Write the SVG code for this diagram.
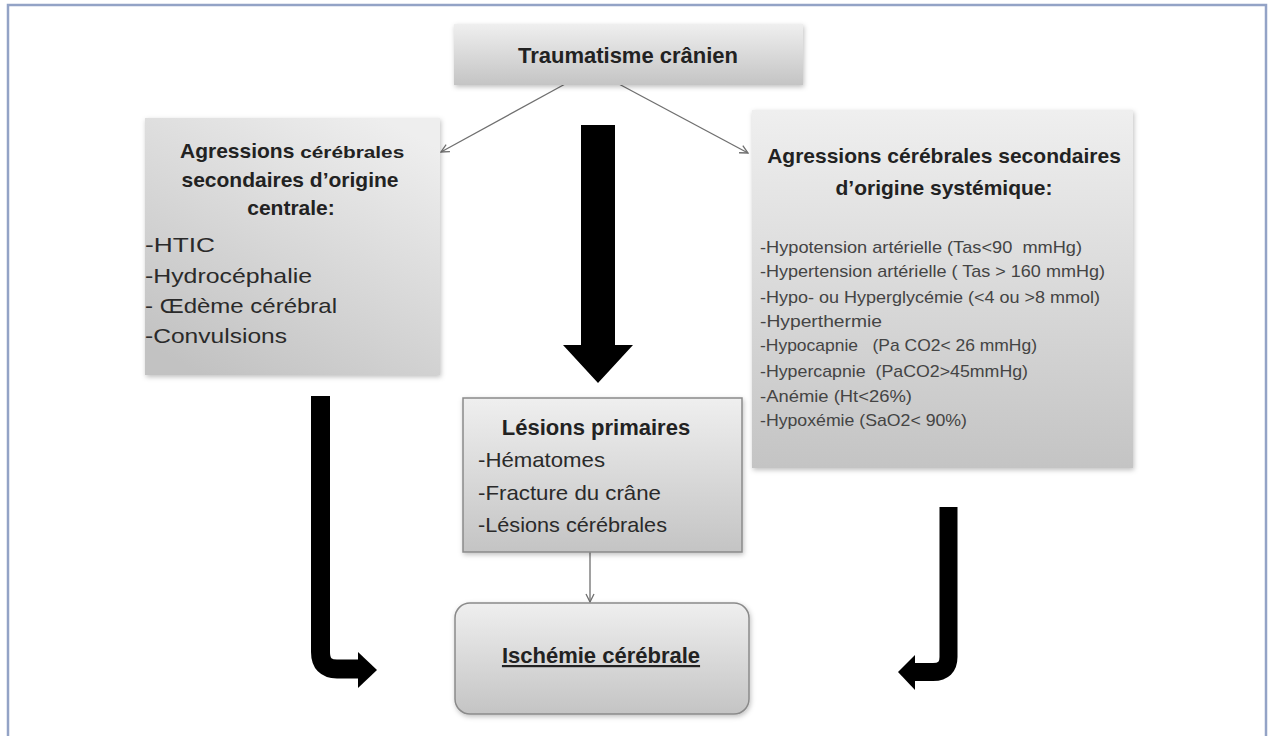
<svg xmlns="http://www.w3.org/2000/svg" width="1270" height="736" viewBox="0 0 1270 736">
<style>
  text { font-family: "Liberation Sans", Arial, sans-serif; fill: #222; }
  .b { font-weight: bold; }
  .t { text-anchor: middle; font-weight: bold; }
  .li { font-size: 21px; fill: #2a2a2a; }
  .rl { font-size: 17px; fill: #444; white-space: pre; }
  .thin { stroke: #6f6f6f; stroke-width: 1.3; fill: none; }
  .box { stroke: none; }
</style>
<defs>
  <linearGradient id="g" x1="0" y1="0" x2="0" y2="1">
    <stop offset="0" stop-color="#efefef"/>
    <stop offset="1" stop-color="#c4c4c4"/>
  </linearGradient>
  <linearGradient id="g2" x1="0.8" y1="0" x2="0.2" y2="1">
    <stop offset="0" stop-color="#eeeeee"/>
    <stop offset="1" stop-color="#c2c2c2"/>
  </linearGradient>
  <filter id="sh" x="-10%" y="-10%" width="120%" height="120%">
    <feDropShadow dx="1" dy="2" stdDeviation="2.5" flood-color="#000" flood-opacity="0.25"/>
  </filter>
  <marker id="ah" markerWidth="10" markerHeight="10" refX="9" refY="5" orient="auto" markerUnits="userSpaceOnUse">
    <path d="M1,1 L9,5 L1,9" fill="none" stroke="#6f6f6f" stroke-width="1.3"/>
  </marker>
</defs>
<rect x="0" y="0" width="1270" height="736" fill="#ffffff"/>
<rect x="8" y="5" width="1258" height="760" fill="none" stroke="#93a3c6" stroke-width="2.5"/>

<g id="connectors">
  <line class="thin" x1="567" y1="83" x2="441" y2="152" marker-end="url(#ah)"/>
  <line class="thin" x1="617" y1="83" x2="748" y2="153" marker-end="url(#ah)"/>
  <line class="thin" x1="590" y1="552" x2="590" y2="602" marker-end="url(#ah)"/>
  <path d="M581,125 H615 V345 H633 L598,383 L563,345 H581 Z" fill="#000"/>
  <path d="M320.5,396 V652 Q320.5,669 337,669 H360" fill="none" stroke="#000" stroke-width="19"/>
  <path d="M358,652 L377,670 L358,688 Z" fill="#000"/>
  <path d="M948.5,507 V657 Q948.5,672 933,672 H913" fill="none" stroke="#000" stroke-width="18"/>
  <path d="M915,655 L898,672 L915,690 Z" fill="#000"/>
</g>

<g id="trauma">
  <rect class="box" x="454" y="24" width="349" height="61" fill="url(#g)" filter="url(#sh)"/>
  <text class="t" x="628" y="63" font-size="22">Traumatisme crânien</text>
</g>

<g id="centrale">
  <rect class="box" x="145" y="118" width="295" height="257" fill="url(#g2)" filter="url(#sh)"/>
  <text x="180" y="158" class="b" font-size="21">Agressions <tspan font-size="17" textLength="104" lengthAdjust="spacingAndGlyphs">cérébrales</tspan></text>
  <text class="t" x="290" y="187" font-size="21">secondaires d’origine</text>
  <text class="t" x="291" y="215" font-size="21">centrale:</text>
  <text class="li" x="145" y="252" textLength="70" lengthAdjust="spacingAndGlyphs">-HTIC</text>
  <text class="li" x="145" y="283" textLength="167" lengthAdjust="spacingAndGlyphs">-Hydrocéphalie</text>
  <text class="li" x="145" y="313" textLength="192" lengthAdjust="spacingAndGlyphs">- Œdème cérébral</text>
  <text class="li" x="145" y="343" textLength="142" lengthAdjust="spacingAndGlyphs">-Convulsions</text>
</g>

<g id="systemique">
  <rect class="box" x="752" y="110" width="381" height="358" fill="url(#g)" filter="url(#sh)"/>
  <text class="t" x="944" y="163" font-size="21">Agressions cérébrales secondaires</text>
  <text class="t" x="944" y="195" font-size="21">d’origine systémique:</text>
  <text class="rl" x="760" y="253" textLength="322" lengthAdjust="spacingAndGlyphs" xml:space="preserve">-Hypotension artérielle (Tas&lt;90  mmHg)</text>
  <text class="rl" x="760" y="277" textLength="345" lengthAdjust="spacingAndGlyphs">-Hypertension artérielle ( Tas &gt; 160 mmHg)</text>
  <text class="rl" x="760" y="303" textLength="340" lengthAdjust="spacingAndGlyphs">-Hypo- ou Hyperglycémie (&lt;4 ou &gt;8 mmol)</text>
  <text class="rl" x="760" y="327" textLength="122" lengthAdjust="spacingAndGlyphs">-Hyperthermie</text>
  <text class="rl" x="760" y="351" textLength="277" lengthAdjust="spacingAndGlyphs" xml:space="preserve">-Hypocapnie   (Pa CO2&lt; 26 mmHg)</text>
  <text class="rl" x="760" y="377" textLength="268" lengthAdjust="spacingAndGlyphs" xml:space="preserve">-Hypercapnie  (PaCO2&gt;45mmHg)</text>
  <text class="rl" x="760" y="402" textLength="152" lengthAdjust="spacingAndGlyphs">-Anémie (Ht&lt;26%)</text>
  <text class="rl" x="760" y="426" textLength="207" lengthAdjust="spacingAndGlyphs">-Hypoxémie (SaO2&lt; 90%)</text>
</g>

<g id="primaires">
  <rect x="463" y="398" width="279" height="154" fill="url(#g)" stroke="#8a8a8a" stroke-width="1.5" filter="url(#sh)"/>
  <text class="t" x="596" y="435" font-size="22">Lésions primaires</text>
  <text class="li" x="478" y="467" font-size="20" textLength="127" lengthAdjust="spacingAndGlyphs">-Hématomes</text>
  <text class="li" x="478" y="500" font-size="20" textLength="183" lengthAdjust="spacingAndGlyphs">-Fracture du crâne</text>
  <text class="li" x="478" y="532" font-size="20" textLength="189" lengthAdjust="spacingAndGlyphs">-Lésions cérébrales</text>
</g>

<g id="ischemie">
  <rect x="455" y="603" width="294" height="111" rx="15" ry="15" fill="url(#g)" stroke="#8a8a8a" stroke-width="1.5" filter="url(#sh)"/>
  <text class="t" x="601" y="663" font-size="22" text-decoration="underline">Ischémie cérébrale</text>
</g>
</svg>
